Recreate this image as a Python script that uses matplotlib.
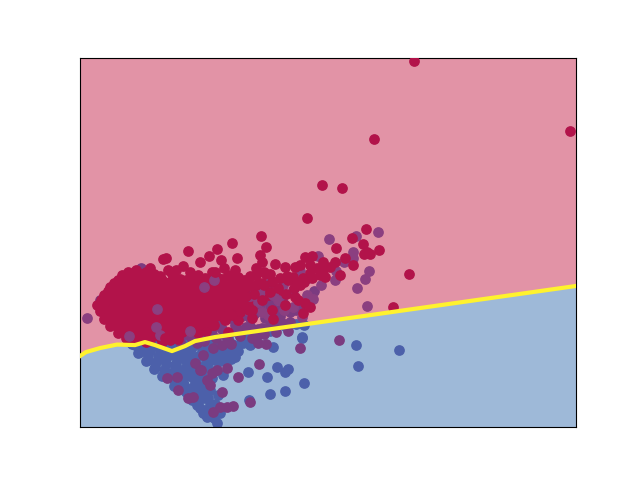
import numpy as np
import matplotlib.pyplot as plt

# values (axes run in the reference's pixel positions)
boundary_x = [80, 86, 100, 117, 135, 145, 155, 172, 185, 195, 215, 576]
boundary_y = [356, 352, 348, 344.5, 345, 342, 345, 351, 346, 341, 337, 286]

blue_x = [356, 399, 358, 302, 304, 270, 273, 277, 288, 285, 267, 304, 285, 270, 250, 257, 248,
          249, 223, 235, 231, 220, 302, 217, 207, 203, 197, 200, 193, 210, 220, 218, 208, 202, 193,
          195, 210, 223, 243, 250, 238, 257, 135, 140, 148, 155, 165, 172, 165, 175, 185, 180, 190,
          160, 170, 150, 200, 210, 190, 200, 195, 130, 145, 158, 178, 188, 205, 215, 228, 240, 183,
          192, 205, 215, 170, 160, 203, 213, 187, 180, 196, 207, 262, 270, 285, 296,
          132, 142, 152, 162, 172, 182, 192, 202, 212, 222, 232, 242,
          138, 148, 158, 168, 178, 188, 198, 208, 218, 228, 238,
          146, 156, 166, 176, 186, 196, 206, 216, 226,
          154, 164, 174, 184, 194, 204, 214,
          162, 172, 182, 192, 200, 212, 174, 184, 194, 204,
          186, 194, 202, 210, 192, 200, 208, 200, 210, 206, 214,
          215, 225, 235, 245, 255]
blue_y = [345, 350, 366, 338, 325, 331, 347, 367, 369, 372, 377, 383, 391, 394, 344, 335, 372,
          400, 375, 357, 359, 361, 337, 423, 417, 413, 405, 392, 393, 405, 413, 395, 363, 375, 357,
          383, 353, 353, 343, 345, 345, 335, 345, 352, 360, 367, 372, 378, 360, 365, 370, 352, 350,
          350, 355, 350, 345, 343, 362, 385, 395, 342, 344, 345, 358, 375, 350, 340, 338, 336, 382,
          388, 398, 404, 345, 342, 367, 345, 342, 372, 378, 410, 330, 328, 326, 324,
          344, 347, 346, 349, 348, 350, 347, 349, 346, 348, 344, 342,
          353, 354, 356, 355, 357, 354, 356, 353, 355, 352, 351,
          361, 362, 364, 363, 361, 364, 362, 360, 362,
          369, 370, 371, 369, 370, 368, 371,
          376, 378, 379, 377, 376, 378, 386, 385, 387, 384,
          392, 391, 393, 390, 400, 399, 398, 408, 407, 415, 418,
          360, 350, 348, 338, 330]

purple_x = [339, 300, 259, 258, 266, 250, 260, 238, 227, 231, 222, 222, 233, 227, 220, 213, 212,
            217, 210, 207, 195, 200, 193, 197, 213, 203, 178, 188, 201, 177, 167, 141, 170, 185, 200,
            212, 225, 240, 250, 262, 278, 290, 175, 190, 205, 220, 235, 250, 265, 280, 230, 245, 260,
            270, 285, 296, 240, 255, 268, 282, 205, 215, 195, 120, 110, 103, 100, 150, 165, 308, 314,
            180, 192, 204, 216, 228, 240, 252, 264, 276, 288, 186, 198, 210, 222, 234, 246, 258, 270, 282,
            218, 230, 242, 254, 266, 278, 290, 300, 212, 224, 236, 246, 258, 272, 284]
purple_y = [340, 348, 364, 343, 344, 402, 333, 377, 368, 344, 345, 392, 406, 407, 407, 412, 373,
            370, 385, 380, 363, 370, 397, 343, 348, 355, 390, 398, 370, 377, 378, 268, 338, 333, 335,
            330, 335, 330, 326, 328, 325, 322, 330, 325, 328, 322, 325, 318, 318, 316, 312, 308, 305,
            305, 308, 310, 296, 293, 292, 300, 318, 312, 320, 296, 302, 308, 300, 340, 338, 298, 291,
            342, 339, 341, 338, 340, 336, 338, 334, 332, 331, 334, 330, 332, 329, 331, 327, 329, 325, 323,
            320, 318, 316, 314, 312, 310, 312, 306, 312, 310, 308, 306, 304, 302, 304]

red_x = [
    128, 136, 150, 141, 118, 126, 134, 142, 150, 160, 172, 180, 198, 205, 183, 163,
    110, 118, 126, 134, 142, 150, 158, 166, 174, 182, 190, 198, 206, 214, 222, 232, 244, 256,
    104, 112, 120, 128, 136, 144, 152, 160, 168, 176, 184, 192, 200, 210, 218, 226, 234, 242, 250, 262, 272,
    97, 105, 113, 121, 129, 137, 145, 153, 161, 169, 177, 185, 193, 201, 209, 217, 225, 233, 241, 249, 257, 268, 280,
    100, 108, 116, 124, 132, 140, 148, 156, 164, 172, 180, 188, 196, 204, 212, 220, 228, 236, 244, 252,
    104, 112, 120, 128, 136, 144, 152, 160, 168, 176, 184, 192, 200, 208, 216, 224, 232,
    110, 118, 126, 134, 142, 150, 158, 166, 174, 182, 190, 198, 206, 214,
    118, 126, 134, 142, 150, 158, 166, 174, 182, 190, 198, 206,
    126, 134, 142, 150, 158, 166, 174, 134, 146, 162, 170, 178,
    # second pass over the solid part of the cloud
    122, 130, 138, 146, 154, 168, 176, 190, 212,
    114, 122, 130, 138, 146, 154, 162, 170, 178, 186, 194, 202, 210, 218, 228, 238, 250, 266,
    108, 116, 124, 132, 140, 148, 156, 164, 172, 180, 188, 196, 205, 214, 222, 230, 238, 246,
    101, 109, 117, 125, 133, 141, 149, 157, 165, 173, 181, 189, 197, 205, 213, 221, 229, 237, 245,
    104, 112, 120, 128, 136, 144, 152, 160, 168, 176, 184, 192, 200, 208, 216, 224,
    108, 116, 124, 132, 140, 148, 156, 164, 172, 180, 188, 196, 204, 212, 220,
    114, 122, 130, 138, 146, 154, 162, 170, 178, 186, 194, 202, 210,
    122, 130, 138, 146, 154, 162, 170, 178, 186, 194]
red_y = [
    272, 270, 268, 274, 280, 278, 279, 277, 280, 276, 274, 279, 275, 278, 266, 259,
    287, 286, 288, 285, 287, 284, 286, 283, 287, 285, 282, 286, 284, 282, 279, 277, 280, 275,
    295, 294, 296, 293, 295, 292, 294, 296, 293, 295, 292, 294, 296, 289, 293, 290, 292, 288, 287, 283, 281,
    305, 303, 302, 304, 301, 303, 300, 303, 301, 302, 304, 300, 303, 305, 299, 302, 299, 301, 298, 300, 297, 295, 292,
    311, 312, 310, 312, 309, 311, 313, 310, 312, 309, 311, 313, 310, 312, 309, 308, 310, 306, 305, 306,
    319, 318, 320, 317, 319, 321, 318, 320, 317, 319, 321, 318, 320, 317, 316, 318, 315,
    326, 327, 325, 327, 326, 328, 325, 327, 324, 326, 328, 325, 323, 325,
    333, 332, 334, 331, 335, 333, 331, 334, 332, 330, 333, 331,
    338, 339, 337, 339, 336, 338, 335, 341, 342, 342, 340, 339,
    # second pass over the solid part of the cloud
    275, 274, 273, 272, 274, 270, 270, 272, 272,
    283, 282, 281, 282, 283, 281, 280, 282, 281, 280, 281, 282, 280, 278, 275, 277, 276, 274,
    291, 290, 289, 290, 288, 290, 289, 291, 289, 290, 288, 290, 288, 287, 286, 284, 285, 284,
    300, 298, 299, 298, 299, 297, 298, 299, 297, 298, 297, 299, 298, 296, 297, 296, 295, 293, 292,
    307, 308, 306, 307, 306, 307, 306, 307, 306, 307, 306, 307, 306, 305, 305, 304,
    315, 315, 314, 315, 314, 315, 314, 315, 314, 315, 314, 315, 314, 313, 312,
    322, 323, 322, 322, 323, 322, 323, 322, 321, 322, 321, 321, 320,
    330, 329, 330, 329, 330, 329, 330, 329, 328, 328]

purple_top_x = [87, 214, 204, 157, 156, 129, 329, 378, 356, 353, 353, 344, 369, 365, 357, 367, 335,
                321, 336, 318, 307, 313, 293, 293, 300, 308, 302, 260, 258, 247, 293, 278, 284, 268, 273,
                262, 250, 270, 283, 160, 190]
purple_top_y = [318, 280, 287, 309, 327, 336, 239, 232, 236, 252, 258, 262, 271, 279, 288, 306, 280,
                285, 271, 256, 295, 299, 290, 307, 271, 278, 317, 292, 302, 310, 278, 300, 310, 315, 295,
                312, 296, 283, 285, 335, 331]

red_top_x = [322, 342, 307, 374, 414, 570, 366, 352, 363, 336, 379, 364, 370, 367, 353, 345, 335,
             305, 312, 323, 323, 330, 317, 325, 340, 310, 303, 295, 293, 300, 305, 310, 303, 295, 393,
             409, 273, 249, 252, 228, 238, 227, 212, 188, 217, 232, 209, 261, 266, 221, 237, 200,
             166, 260, 262, 256, 275, 285, 264, 287, 245, 270, 258, 235, 224, 215, 240,
             232, 240, 248, 256, 264, 272, 280, 288, 296, 304, 312, 320, 236, 246, 254, 262, 270, 278,
             286, 294, 244, 236, 252, 230, 225, 220, 272, 285, 298, 200, 190, 178, 165, 240, 300, 310]
red_top_y = [185, 188, 218, 139, 61, 131, 229, 238, 244, 248, 250, 254, 254, 252, 265, 258, 262,
             257, 256, 262, 270, 267, 268, 277, 275, 273, 278, 267, 277, 285, 303, 307, 313, 297, 307,
             274, 319, 310, 318, 332, 320, 315, 325, 251, 249, 243, 256, 236, 247, 260, 258, 262,
             258, 255, 262, 268, 264, 267, 272, 276, 288, 274, 283, 270, 268, 272, 292,
             285, 282, 280, 285, 285, 282, 278, 280, 282, 282, 278, 275, 295, 296, 294, 300, 292, 288,
             294, 288, 305, 306, 310, 305, 320, 312, 310, 305, 300, 325, 318, 335, 338, 312, 265, 265]

fig, ax = plt.subplots(figsize=(6.4, 4.8))

x_left, x_right = 80, 576
y_bottom, y_top = 427, 58

# decision regions
ax.fill_between(boundary_x, boundary_y, y_top, color="#e293a6", lw=0)
ax.fill_between(boundary_x, boundary_y, y_bottom, color="#9eb9d8", lw=0)

ax.scatter(blue_x, blue_y, s=45, color="#4c60aa", zorder=2)
ax.scatter(purple_x, purple_y, s=45, color="#7b3b80", zorder=2)
ax.scatter(red_x, red_y, s=45, color="#b2134a", zorder=3)
ax.scatter(purple_top_x, purple_top_y, s=45, color="#8b3f80", zorder=3)
ax.scatter(red_top_x, red_top_y, s=45, color="#b2134a", zorder=3)

ax.plot(boundary_x, boundary_y, color="#fff22e", lw=3, zorder=4)

ax.set_xlim(x_left, x_right)
ax.set_ylim(y_bottom, y_top)
ax.set_xticks([])
ax.set_yticks([])

plt.savefig("out.png", dpi=100)
